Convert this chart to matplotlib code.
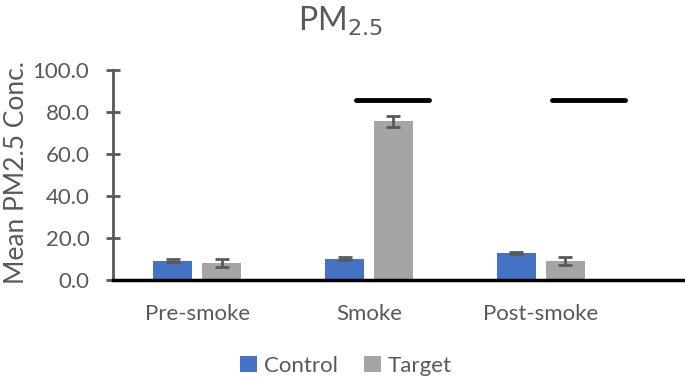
import matplotlib
matplotlib.use("Agg")
import matplotlib.pyplot as plt
import numpy as np

plt.rcParams['font.family'] = ['Lato', 'DejaVu Sans']

categories = ["Pre-smoke", "Smoke", "Post-smoke"]
control = [9.3, 10.2, 13.0]
control_err = [0.6, 0.6, 0.6]
target = [8.0, 75.5, 9.0]
target_err = [2.0, 2.7, 2.0]
sig_level = 85.9
yticks = [0, 20, 40, 60, 80, 100]

txt = '#595959'
fig = plt.figure(figsize=(6.85, 3.78), dpi=100)
ax = fig.add_axes([0.165, 0.259, 0.835, 0.556])

x = np.arange(len(categories))
w = 0.227
off = 0.142
ax.bar(x - off, control, w, color='#4472C4', label='Control', zorder=2)
ax.bar(x + off, target, w, color='#A5A5A5', label='Target', zorder=2)
ax.errorbar(x - off, control, yerr=control_err, fmt='none', ecolor=txt,
            elinewidth=2, capsize=5, capthick=2, zorder=3)
ax.errorbar(x + off, target, yerr=target_err, fmt='none', ecolor=txt,
            elinewidth=2, capsize=5, capthick=2, zorder=3)

# significance lines
ax.plot([1 - 0.076, 1 + 0.349], [sig_level, sig_level], color='black', lw=3.5,
        solid_capstyle='round', zorder=3)
ax.plot([2 + 0.064, 2 + 0.488], [sig_level, sig_level], color='black', lw=3.5,
        solid_capstyle='round', zorder=3)

ax.set_xlim(-0.49, 2.84)
ax.set_ylim(0, 100)
ax.set_yticks(yticks)
ax.set_yticklabels([f"{v:.1f}" for v in yticks], fontsize=16, color=txt)
ax.set_xticks(x)
ax.set_xticklabels(categories, fontsize=16, color=txt)
ax.tick_params(axis='x', length=0, pad=17)
ax.tick_params(axis='y', direction='inout', length=10, width=2, color=txt, pad=12)

for s in ['top', 'right']:
    ax.spines[s].set_visible(False)
ax.spines['left'].set_color(txt)
ax.spines['left'].set_linewidth(2)
ax.spines['bottom'].set_color('black')
ax.spines['bottom'].set_linewidth(2.5)
ax.spines['bottom'].set_zorder(4)

ax.set_ylabel("Mean PM2.5 Conc.", fontsize=19, color=txt)
ax.yaxis.set_label_coords(-0.147, 0.51)
fig.text(0.497, 0.918, r"PM$_{2.5}$", fontsize=23, color=txt, ha='center', va='baseline')

fig.legend(loc='center', bbox_to_anchor=(0.505, 0.032), ncol=2, frameon=False,
           fontsize=16, handlelength=0.75, handleheight=0.75, handletextpad=0.3,
           columnspacing=1.2, labelcolor=txt)

fig.savefig("out.png", dpi=100)
